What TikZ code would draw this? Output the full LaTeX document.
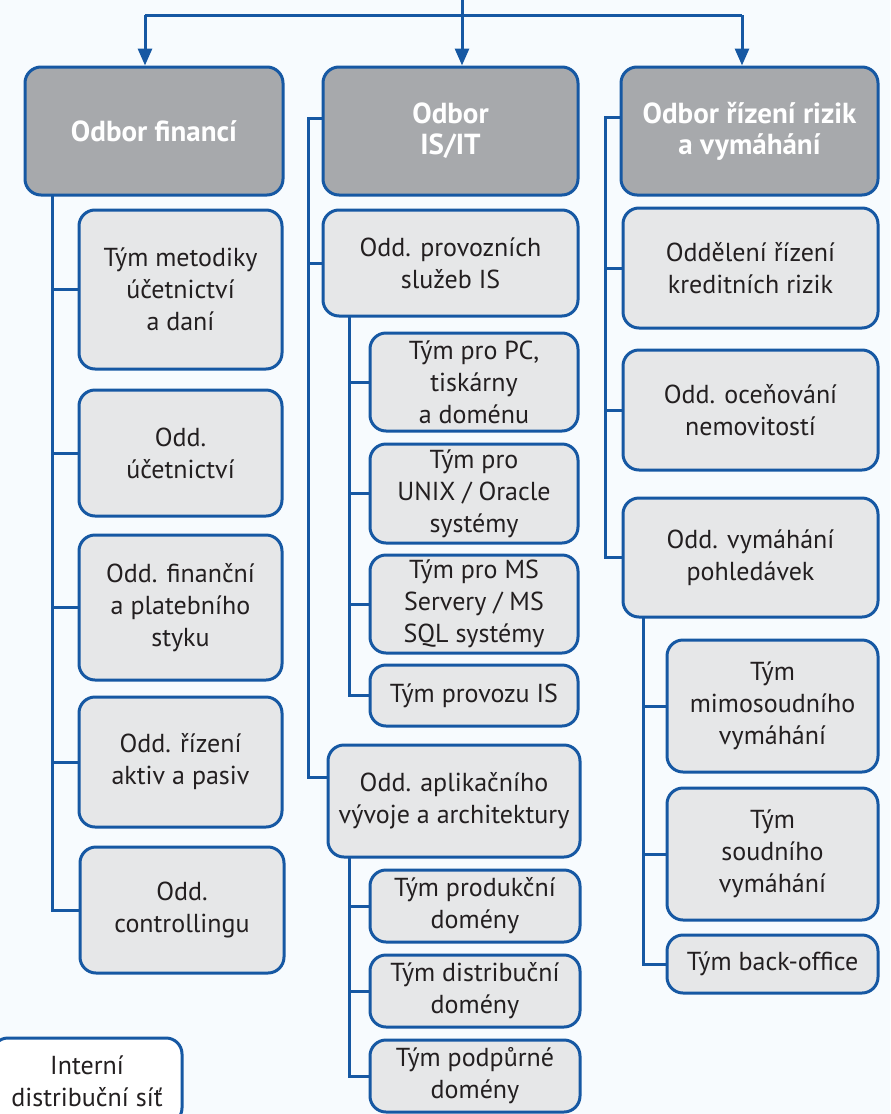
\documentclass[tikz,border=0pt]{standalone}
\usepackage{fontspec}
\setmainfont{PT Sans}
\usetikzlibrary{arrows.meta,calc}
\definecolor{modra}{RGB}{22,88,163}
\definecolor{seda}{RGB}{230,231,232}
\definecolor{tmava}{RGB}{167,169,172}
\definecolor{pismo}{RGB}{35,31,32}
\definecolor{pozadi}{RGB}{247,251,254}
\begin{document}
\begin{tikzpicture}[x=0.5pt,y=-0.5pt,
  kast/.style={draw=modra,line width=1.5pt,rounded corners=8pt,fill=seda,text=pismo,
    align=center,inner sep=2pt,font=\fontsize{13}{16}\selectfont},
  hlava/.style={kast,fill=tmava,text=white,font=\bfseries\fontsize{14.5}{15.5}\selectfont},
  bila/.style={kast,fill=white},
  spoj/.style={draw=modra,line width=1.5pt},
  sipka/.style={spoj,-{Triangle[length=8.5pt,width=7pt]}}]
\newcommand\krabice[7]{
\node[#1,minimum width={(#5-#3)*0.5pt},minimum height={(#6-#4)*0.5pt}] (#2) at ({(#3+#5)/2},{(#4+#6)/2}) {#7};
}
\fill[pozadi] (0,0) rectangle (890,1114);
\useasboundingbox (0,0) rectangle (890,1114);
% hlavicky odboru
\krabice{hlava}{fin}{25}{67}{283}{195}{Odbor financí}
\krabice{hlava}{isit}{323}{67}{578}{195}{Odbor\\IS/IT}
\krabice{hlava}{riz}{621}{67}{878}{195}{Odbor řízení rizik\\a vymáhání}
% odbor financi
\krabice{kast}{f1}{79}{210}{282}{369}{Tým metodiky\\účetnictví\\a daní}
\krabice{kast}{f2}{79}{390}{282}{516}{Odd.\\účetnictví}
\krabice{kast}{f3}{79}{535}{282}{680}{Odd. finanční\\a platebního\\styku}
\krabice{kast}{f4}{79}{697}{282}{827}{Odd. řízení\\aktiv a pasiv}
\krabice{kast}{f5}{80}{847}{284}{973}{Odd.\\controllingu}
% odbor IS/IT
\krabice{kast}{prov}{323}{210}{578}{316}{Odd. provozních\\služeb IS}
\krabice{kast}{pc}{370}{333}{578}{431}{Tým pro PC,\\tiskárny\\a doménu}
\krabice{kast}{unix}{370}{444}{578}{543}{Tým pro\\UNIX / Oracle\\systémy}
\krabice{kast}{ms}{370}{555}{578}{653}{Tým pro MS\\Servery / MS\\SQL systémy}
\krabice{kast}{ops}{370}{665}{578}{726}{Tým provozu IS}
\krabice{kast}{apl}{328}{745}{580}{857}{Odd. aplikačního\\vývoje a architektury}
\krabice{kast}{prod}{370}{870}{580}{942}{Tým produkční\\domény}
\krabice{kast}{dist}{370}{955}{580}{1027}{Tým distribuční\\domény}
\krabice{kast}{podp}{370}{1040}{580}{1112}{Tým podpůrné\\domény}
% odbor rizik
\krabice{kast}{kred}{623}{208}{878}{328}{Oddělení řízení\\kreditních rizik}
\krabice{kast}{oce}{623}{350}{878}{470}{Odd. oceňování\\nemovitostí}
\krabice{kast}{vym}{623}{498}{878}{617}{Odd. vymáhání\\pohledávek}
\krabice{kast}{mimo}{667}{640}{878}{772}{Tým\\mimosoudního\\vymáhání}
\krabice{kast}{soud}{667}{788}{878}{920}{Tým\\soudního\\vymáhání}
\krabice{kast}{back}{667}{935}{878}{993}{Tým back-office}
% vlevo dole
\krabice{bila}{int}{-8}{1038}{182}{1124}{Interní\\distribuční síť}
% sipky shora
\coordinate (top) at (462,0);
\coordinate (a1) at (145,15);
\coordinate (a2) at (462,15);
\coordinate (a3) at (742,15);
\draw[spoj] (top) -- (a2);
\draw[spoj] (a1) -- (a3);
\draw[sipka] (a1) -- (a1 |- fin.north);
\draw[sipka] (a2) -- (a2 |- isit.north);
\draw[sipka] (a3) -- (a3 |- riz.north);
% spojnice
\coordinate (s1) at (52,195);
\draw[spoj] (s1) |- (f5.west);
\foreach \n in {f1,f2,f3,f4} \draw[spoj] (s1 |- \n.west) -- (\n.west);
\coordinate (s2) at (308,118);
\draw[spoj] (isit.west |- s2) -- (s2) |- ($(apl.west)+(0,-24)$);
\draw[spoj] (s2 |- prov.west) -- (prov.west);
\coordinate (s5) at (349,316);
\draw[spoj] (s5) |- (ops.west);
\foreach \n in {pc,unix,ms} \draw[spoj] (s5 |- \n.west) -- (\n.west);
\coordinate (s6) at (349,857);
\draw[spoj] (s6) |- (podp.west);
\foreach \n in {prod,dist} \draw[spoj] (s6 |- \n.west) -- (\n.west);
\coordinate (s3) at (605,117);
\draw[spoj] (riz.west |- s3) -- (s3) |- (vym.west);
\foreach \n in {kred,oce} \draw[spoj] (s3 |- \n.west) -- (\n.west);
\coordinate (s4) at (643,617);
\draw[spoj] (s4) |- (back.west);
\foreach \n in {mimo,soud} \draw[spoj] (s4 |- \n.west) -- (\n.west);
\end{tikzpicture}
\end{document}
